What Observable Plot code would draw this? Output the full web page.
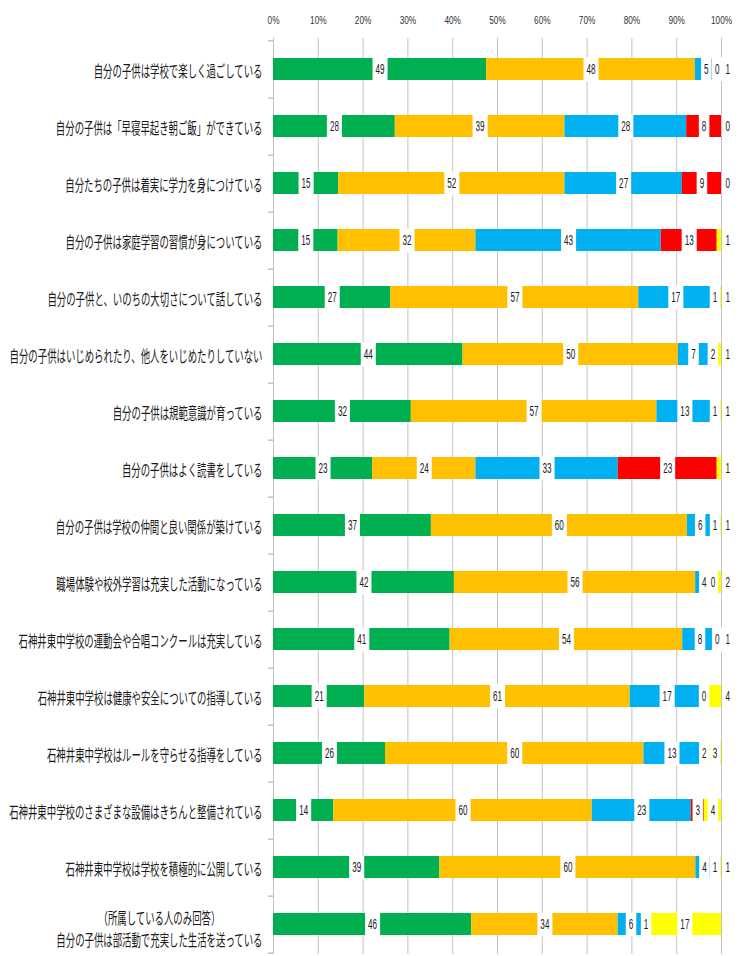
<!DOCTYPE html>
<html><head><meta charset="utf-8">
<script src="https://cdn.jsdelivr.net/npm/d3@7"></script>
<script src="https://cdn.jsdelivr.net/npm/@observablehq/plot@0.6"></script>
<style>html,body{margin:0;padding:0;background:#fff;} svg{display:block}</style>
</head><body><div id="chart"></div>
<script>
const categories = [
  "自分の子供は学校で楽しく過ごしている",
  "自分の子供は「早寝早起き朝ご飯」ができている",
  "自分たちの子供は着実に学力を身につけている",
  "自分の子供は家庭学習の習慣が身についている",
  "自分の子供と、いのちの大切さについて話している",
  "自分の子供はいじめられたり、他人をいじめたりしていない",
  "自分の子供は規範意識が育っている",
  "自分の子供はよく読書をしている",
  "自分の子供は学校の仲間と良い関係が築けている",
  "職場体験や校外学習は充実した活動になっている",
  "石神井東中学校の運動会や合唱コンクールは充実している",
  "石神井東中学校は健康や安全についての指導している",
  "石神井東中学校はルールを守らせる指導をしている",
  "石神井東中学校のさまざまな設備はきちんと整備されている",
  "石神井東中学校は学校を積極的に公開している",
  "（所属している人のみ回答）\n自分の子供は部活動で充実した生活を送っている"
];
const seriesNames = ["とてもそう思う", "ややそう思う", "あまりそう思わない", "まったくそう思わない", "わからない"];
const seriesColors = ["#00B050", "#FFC000", "#00B0F0", "#FF0000", "#FFFF00"];
const greenValues  = [49, 28, 15, 15, 27, 44, 32, 23, 37, 42, 41, 21, 26, 14, 39, 46];
const orangeValues = [48, 39, 52, 32, 57, 50, 57, 24, 60, 56, 54, 61, 60, 60, 60, 34];
const blueValues   = [5, 28, 27, 43, 17, 7, 13, 33, 6, 4, 8, 17, 13, 23, 4, 6];
const redValues    = [0, 8, 9, 13, 1, 2, 1, 23, 1, 0, 0, 0, 2, 3, 1, 1];
const yellowValues = [1, 0, 0, 1, 1, 1, 1, 1, 1, 2, 1, 4, 3, 4, 1, 17];
const xTicks = [0, 0.1, 0.2, 0.3, 0.4, 0.5, 0.6, 0.7, 0.8, 0.9, 1];
const xTickLabels = ["0%", "10%", "20%", "30%", "40%", "50%", "60%", "70%", "80%", "90%", "100%"];

const seriesValues = [greenValues, orangeValues, blueValues, redValues, yellowValues];
const rows = categories.flatMap((c, i) => seriesNames.map((s, j) => ({cat: c, series: s, value: seriesValues[j][i]})));

const W = 741, H = 956, mT = 38, mB = 2, mL = 273, mR = 20;
const step = (H - mT - mB) / categories.length;

const plot = Plot.plot({
  width: W, height: H,
  marginTop: mT, marginBottom: mB, marginLeft: mL, marginRight: mR,
  style: {background: "#fff", fontFamily: "'Liberation Sans', Arial, sans-serif"},
  x: {domain: [0, 1], axis: null},
  y: {domain: categories, axis: null, paddingInner: 0.615, paddingOuter: 0.3075},
  color: {domain: seriesNames, range: seriesColors},
  marks: [
    Plot.ruleX(xTicks, {x: d => d, stroke: "#c3c3c3", strokeWidth: 1}),
    Plot.ruleY(categories, {y: d => d, x1: 0, x2: 0, insetLeft: -5, dy: step / 2, stroke: "#a6a6a6"}),
    Plot.ruleY([categories[0]], {y: d => d, x1: 0, x2: 0, insetLeft: -5, dy: -step / 2, stroke: "#a6a6a6"}),
    Plot.barX(rows, Plot.stackX({x: "value", y: "cat", fill: "series", offset: "normalize"})),
    Plot.text(rows, Plot.stackX({x: "value", y: "cat", z: "series", offset: "normalize", text: "value",
      fontSize: 14, fill: "#1a1a1a"})),
    Plot.text(categories, {y: d => d, frameAnchor: "left", dx: -11, textAnchor: "end", text: d => d,
      fontSize: 16, fontFamily: "'Noto Sans CJK JP', sans-serif", lineHeight: 1.375, fill: "#1a1a1a"}),
    Plot.text(xTicks, {x: d => d, frameAnchor: "top", dy: -22, text: (d, i) => xTickLabels[i],
      fontSize: 11, fill: "#333"})
  ]
});
document.getElementById("chart").append(plot);

function squeeze(el, k) {
  const L = el.getComputedTextLength();
  if (L > 0) {
    el.setAttribute("textLength", (L * k).toFixed(2));
    el.setAttribute("lengthAdjust", "spacingAndGlyphs");
  }
  return L * k;
}

const textGroups = [...plot.querySelectorAll('g[aria-label="text"]')];
const [segGroup, catGroup, xGroup] = textGroups;

// x tick labels
xGroup.querySelectorAll("text").forEach(t => squeeze(t, 0.75));

// category labels
catGroup.querySelectorAll("text").forEach(t => {
  const spans = t.querySelectorAll("tspan");
  if (spans.length > 1) {
    const ws = [...spans].map(s => squeeze(s, 0.587));
    spans[0].setAttribute("x", (-(ws[1] - ws[0]) / 2).toFixed(2));
    t.setAttribute("transform", t.getAttribute("transform") + " translate(0,3)");
  } else {
    squeeze(t, 0.587);
  }
});

// segment labels with white boxes and simple collision avoidance
const xs = plot.scale("x");
const xLeft = xs.range[0], xRight = xs.range[1];
const bw = plot.scale("y").bandwidth;
const segs = [...segGroup.querySelectorAll("text")].map((t, idx) => {
  const m = /translate\(([-\d.e]+)[,\s]+([-\d.e]+)\)/.exec(t.getAttribute("transform"));
  const w = squeeze(t, 0.58);
  return {t, idx, X: +m[1], Y: +m[2], w, v: +t.textContent};
});
const gap = 3, pad = 3;
const rects = [];
for (const [, arr] of d3.group(segs, s => s.Y)) {
  arr.sort((a, b) => a.idx - b.idx);
  const total = d3.sum(arr, s => s.v);
  let prevTextR = -Infinity, prevBoxR = -Infinity;
  arr.forEach((s, k) => {
    let X = s.X;
    const segW = s.v / total * (xRight - xLeft);
    if (k === arr.length - 1) {
      const collides = X - s.w / 2 - pad < prevBoxR;
      if (segW < s.w + 2 * pad || collides) X = xRight + 1 + pad + s.w / 2;
    } else if (X - s.w / 2 < prevTextR + gap) {
      X = prevTextR + gap + s.w / 2;
    }
    prevTextR = X + s.w / 2;
    prevBoxR = X + s.w / 2 + pad;
    const sh = X - s.X;
    s.t.setAttribute("x", sh.toFixed(2));
    const r = document.createElementNS("http://www.w3.org/2000/svg", "rect");
    r.setAttribute("transform", s.t.getAttribute("transform"));
    r.setAttribute("x", (sh - s.w / 2 - pad).toFixed(2));
    r.setAttribute("y", (-bw / 2 - 1).toFixed(2));
    r.setAttribute("width", (s.w + 2 * pad).toFixed(2));
    r.setAttribute("height", (bw + 2).toFixed(2));
    r.setAttribute("fill", "#fff");
    rects.push(r);
  });
}
for (const r of rects) segGroup.insertBefore(r, segGroup.firstChild);
</script>
</body></html>
